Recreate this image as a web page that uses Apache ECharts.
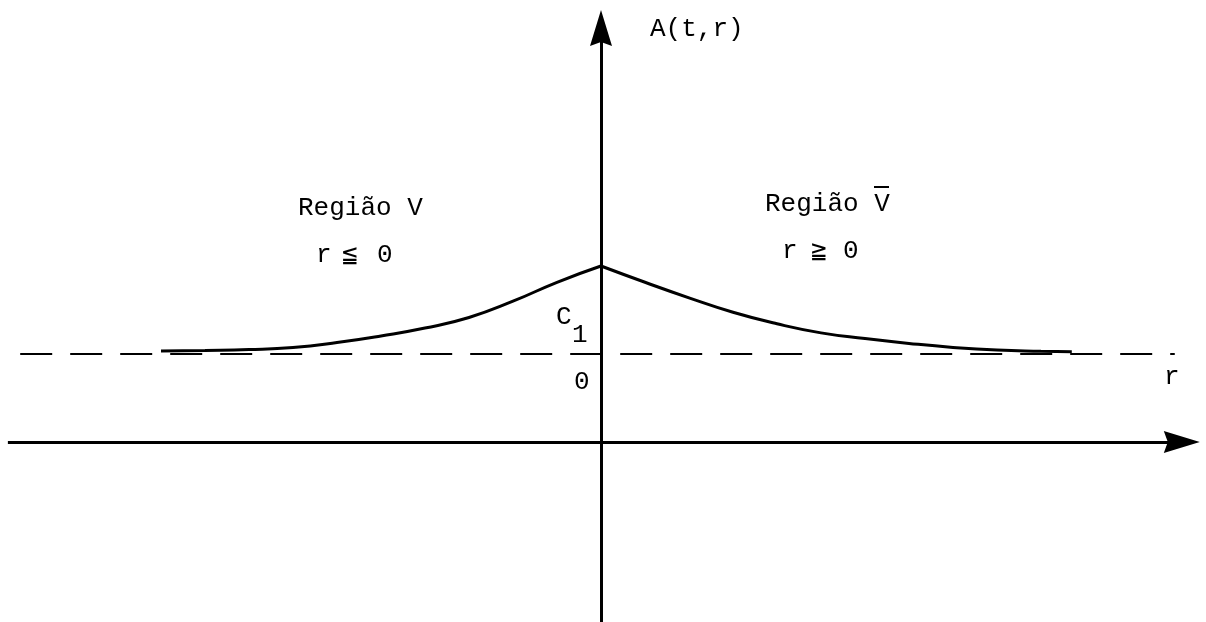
<!DOCTYPE html>
<html>
<head>
<meta charset="utf-8">
<title>A(t,r)</title>
<script src="https://cdn.jsdelivr.net/npm/echarts@6/dist/echarts.min.js"></script>
<style>
  html, body { margin: 0; padding: 0; background: #ffffff; }
  #chart { width: 1206px; height: 622px; }
</style>
</head>
<body>
<div id="chart"></div>
<script>
// Profile of A(t,r) on each side of r = 0 (region V: r <= 0, region V-bar: r >= 0)
const rLeft  = [-5.0, -4.5, -4.0, -3.5, -3.0, -2.5, -2.0, -1.5, -1.0, -0.5, 0];
const aLeft  = [1.034, 1.040, 1.050, 1.074, 1.130, 1.205, 1.295, 1.415, 1.600, 1.815, 2.0];
const rRight = [0, 0.5, 1.0, 1.5, 2.0, 2.5, 3.0, 3.5, 4.0, 4.5, 5.0, 5.35];
const aRight = [2.0, 1.815, 1.638, 1.474, 1.343, 1.240, 1.175, 1.120, 1.075, 1.045, 1.032, 1.026];

// Asymptotic level C1
const c1Level = 1;
const c1Span = [-6.6, 6.52];

// Extents of the drawn r and A axes (the arrow heads sit centred on the far ends)
const rAxisSpan = [-6.74, 6.60];
const aAxisSpan = [-2.05, 4.705];

// Canvas layout: origin of (r, A) and pixels per unit on both axes
const W = 1206, H = 622;
const originX = 601, originY = 442, unit = 88;

const chart = echarts.init(document.getElementById('chart'), null, { renderer: 'canvas' });

const ink = '#000000';
const monoFont = '"Liberation Mono", "DejaVu Sans Mono", monospace';
const fs = 26;

// Text placed by its baseline
function txt(text, x, baseline, size) {
  const s = size || fs;
  return {
    type: 'text', x: x, y: baseline - Math.round(s * 0.8), silent: true,
    style: { text: text, fill: ink, font: s + 'px ' + monoFont, verticalAlign: 'top', align: 'left' }
  };
}

const zip = (xs, ys) => xs.map((x, i) => [x, ys[i]]);

// Slim arrow head with a shallow notch, in a square 36x36 box (tip at the top)
const arrowHead = 'path://M0,0M36,36M18,0L29,36L18,32L7,36Z';

chart.setOption({
  animation: false,
  backgroundColor: '#ffffff',
  grid: { left: 0, right: 0, top: 0, bottom: 0 },
  xAxis: { type: 'value', min: -originX / unit, max: (W - originX) / unit, show: false },
  yAxis: { type: 'value', min: -(H - originY) / unit, max: originY / unit, show: false },
  series: [
    {
      name: 'C1', type: 'line', clip: false, symbol: 'none', silent: true,
      data: [[c1Span[0], c1Level], [c1Span[1], c1Level]],
      lineStyle: { color: ink, width: 2, type: [32, 18] }
    },
    {
      name: 'V', type: 'line', clip: false, symbol: 'none', silent: true,
      smooth: 0.5,
      data: zip(rLeft, aLeft),
      lineStyle: { color: ink, width: 3 }
    },
    {
      name: 'Vbar', type: 'line', clip: false, symbol: 'none', silent: true,
      smooth: 0.5,
      data: zip(rRight, aRight),
      lineStyle: { color: ink, width: 3 }
    },
    {
      name: 'axes', type: 'lines', coordinateSystem: 'cartesian2d', clip: false, silent: true,
      symbol: ['none', arrowHead], symbolSize: 36,
      lineStyle: { color: ink, width: 3, opacity: 1, curveness: 0 },
      data: [
        { coords: [[rAxisSpan[0], 0], [rAxisSpan[1], 0]] },
        { coords: [[0, aAxisSpan[0]], [0, aAxisSpan[1]]] }
      ]
    }
  ],
  graphic: [
    txt('A(t,r)', 650, 37),
    txt('Região V', 298, 216),
    txt('r', 316, 263), txt('≦', 342, 263), txt('0', 377, 263),
    txt('Região V', 765, 212),
    { type: 'line', silent: true, shape: { x1: 874, y1: 187, x2: 889, y2: 187 }, style: { stroke: ink, lineWidth: 2 } },
    txt('r', 782, 259), txt('≧', 811, 259), txt('0', 843, 259),
    txt('C', 556, 325), txt('1', 572, 343),
    txt('0', 574, 390),
    txt('r', 1164, 385)
  ]
});
</script>
</body>
</html>
